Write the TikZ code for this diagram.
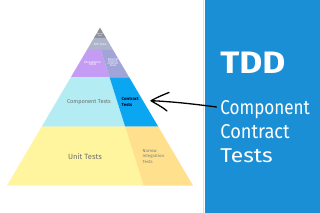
\documentclass[tikz,border=0pt]{standalone}
\usepackage{fontspec}
\usepackage{graphicx}
\setmainfont{Fira Sans}
\definecolor{cTop}{HTML}{8E8F9C}
\definecolor{cEtoE}{HTML}{AEB4CB}
\definecolor{cAcc}{HTML}{C49CF4}
\definecolor{cExt}{HTML}{A0A4D8}
\definecolor{cComp}{HTML}{B3ECF2}
\definecolor{cContr}{HTML}{0AA6F2}
\definecolor{cUnit}{HTML}{FFF59E}
\definecolor{cNarrow}{HTML}{FFE08C}
\definecolor{cPanel}{HTML}{1A8FD6}
\definecolor{cGrayTxt}{HTML}{6E6E6E}
\newcommand{\fitw}[2]{\resizebox{#1pt}{\height}{#2}}
\tikzset{
  lbl/.style={inner sep=0pt, align=center, font=\fontsize{#1}{#1}\selectfont},
  lbl/.default=4,
  paneltxt/.style={inner sep=0pt, anchor=base west, text=white},
}
\begin{document}
\begin{tikzpicture}[x=1pt,y=-1pt]
\useasboundingbox (0,0) rectangle (320,213);
\fill[white] (0,0) rectangle (320,213);
% pyramid bands
\fill[cTop] (100,27.7) -- (106.1,38) -- (93.9,38) -- cycle;
\fill[cEtoE] (93.9,38) -- (106.1,38) -- (113.1,50) -- (86.9,50) -- cycle;
\fill[cAcc] (86.9,50) -- (101,50) -- (109.6,77.3) -- (70.8,77.3) -- cycle;
\fill[cExt] (101,50) -- (113.1,50) -- (129.2,77.3) -- (109.6,77.3) -- cycle;
\fill[cComp] (70.8,77.3) -- (109.6,77.3) -- (125.2,126.7) -- (41.7,126.7) -- cycle;
\fill[cContr] (109.6,77.3) -- (129.2,77.3) -- (158.3,126.7) -- (125.2,126.7) -- cycle;
\fill[cUnit] (41.7,126.7) -- (125.2,126.7) -- (143.7,185.7) -- (6.9,185.7) -- cycle;
\fill[cNarrow] (125.2,126.7) -- (158.3,126.7) -- (193.1,185.7) -- (143.7,185.7) -- cycle;
% pyramid labels
\node[lbl=2, text=white] (manual) at (100,34.5) {Manual\\[-0.3pt]Tests};
\node[lbl=3, text=white] (e2e) at (100,44.3) {E2E Tests};
\node[lbl=3.3, text=white] (acc) at (92.5,63.3) {Acceptance\\[-0.5pt]Tests};
\node[lbl=2.8, text=white] (ext) at (113,62.5) {External\\[-0.6pt]System\\[-0.6pt]Contract\\[-0.6pt]Tests};
\node[lbl=5.6, text=cGrayTxt] (comp) at (89,102) {Component Tests};
\node[lbl=4.4, align=left, anchor=west, text=black!85!blue, font=\fontsize{4.4}{5.4}\selectfont\bfseries] (contr) at (121.5,102) {Contract\\Tests};
\node[lbl=7.6, text=cGrayTxt] (unit) at (85,156.7) {Unit Tests};
\node[align=left, anchor=west, inner sep=0pt, text=cGrayTxt!90, font=\fontsize{4.3}{5.6}\selectfont] (narrow) at (142.5,156.5) {Narrow\\Integration\\Tests};
% right panel
\draw[black!12, line width=0.8pt] (203.6,0) -- (203.6,213);
\fill[cPanel] (204.7,0) rectangle (320,213);
\node[paneltxt, font=\fontsize{31}{31}\selectfont\bfseries] (tdd) at (220.2,74) {\fitw{65}{TDD}};
\node[paneltxt, font=\fontsize{20}{20}\selectfont] (l1) at (220.2,114.3) {\fitw{89.5}{Component}};
\node[paneltxt, font=\fontsize{20}{20}\selectfont] (l2) at (220.2,138.3) {\fitw{69.3}{Contract}};
\node[paneltxt, font=\fontsize{20}{20}\selectfont] (l3) at (220.2,162.3) {\fitw{52.3}{Tests}};
% arrow
\coordinate (tip) at (151,100.7);
\coordinate (tail) at (216.5,107);
\coordinate (barbA) at (169,92.5);
\coordinate (barbB) at (167,111);
\draw[black, line width=1.3pt, line cap=round, line join=round]
  (tail) .. controls (190,103.5) and (170,101.5) .. (tip)
  (barbA) .. controls (160,96) and (154,99) .. (tip)
  .. controls (156,104) and (161,106) .. (barbB);
\end{tikzpicture}
\end{document}
